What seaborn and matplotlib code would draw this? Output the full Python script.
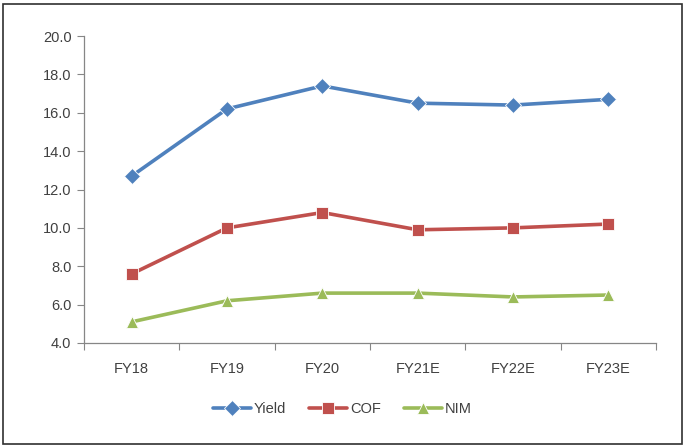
import matplotlib
matplotlib.use("Agg")
import matplotlib.pyplot as plt
from matplotlib.patches import Rectangle
import numpy as np
import pandas as pd
import seaborn as sns

years = ["FY18", "FY19", "FY20", "FY21E", "FY22E", "FY23E"]
yield_vals = [12.7, 16.2, 17.4, 16.5, 16.4, 16.7]
cof_vals = [7.6, 10.0, 10.8, 9.9, 10.0, 10.2]
nim_vals = [5.1, 6.2, 6.6, 6.6, 6.4, 6.5]
series_names = ["Yield", "COF", "NIM"]
y_ticks = [4.0, 6.0, 8.0, 10.0, 12.0, 14.0, 16.0, 18.0, 20.0]

df = pd.DataFrame({
    "year": years * 3,
    "value": yield_vals + cof_vals + nim_vals,
    "series": [s for s in series_names for _ in years],
})

sns.set_theme(style="white")
plt.rcParams["font.family"] = ["Liberation Sans", "DejaVu Sans"]

fig = plt.figure(figsize=(6.85, 4.48), dpi=100)
ax = fig.add_axes([0.1226, 0.2344, 0.8351, 0.6852])

palette = {"Yield": "#4F81BD", "COF": "#C0504D", "NIM": "#9BBB59"}
markers = {"Yield": "D", "COF": "s", "NIM": "^"}
sns.lineplot(data=df, x="year", y="value", hue="series", style="series",
             palette=palette, markers=markers, dashes=False, sort=False,
             linewidth=2.6, markersize=8, markeredgewidth=0.6,
             ax=ax, legend=True)

ax.set_xlim(-0.5, len(years) - 0.5)
ax.set_ylim(4.0, 20.0)
ax.set_yticks(y_ticks)
ax.set_yticklabels([f"{v:.1f}" for v in y_ticks], fontsize=10.5, color="#404040")
ax.set_xticks(range(len(years)))
ax.set_xticklabels(years, fontsize=10.5, color="#404040")
ax.set_xticks(np.arange(-0.5, len(years), 1.0), minor=True)
ax.tick_params(axis="x", which="major", length=0, pad=14)
ax.tick_params(axis="x", which="minor", length=5, width=0.8, color="#868686", direction="out", bottom=True)
ax.tick_params(axis="y", which="major", length=5, width=0.8, color="#868686", direction="out", left=True, pad=4)
ax.set_xlabel("")
ax.set_ylabel("")
for side in ["top", "right"]:
    ax.spines[side].set_visible(False)
for side in ["left", "bottom"]:
    ax.spines[side].set_color("#868686")
    ax.spines[side].set_linewidth(0.9)

handles, labels = ax.get_legend_handles_labels()
ax.get_legend().remove()
fig.legend(handles, labels, loc="center", bbox_to_anchor=(0.5, 0.087), ncol=3,
           frameon=False, fontsize=10.5, handlelength=2.6, columnspacing=1.6,
           handletextpad=0.2, labelcolor="#404040")

fig.add_artist(Rectangle((0.004, 0.008), 0.992, 0.984, transform=fig.transFigure,
                         fill=False, edgecolor="#303030", linewidth=1.2))

fig.savefig("out.png", dpi=100)
